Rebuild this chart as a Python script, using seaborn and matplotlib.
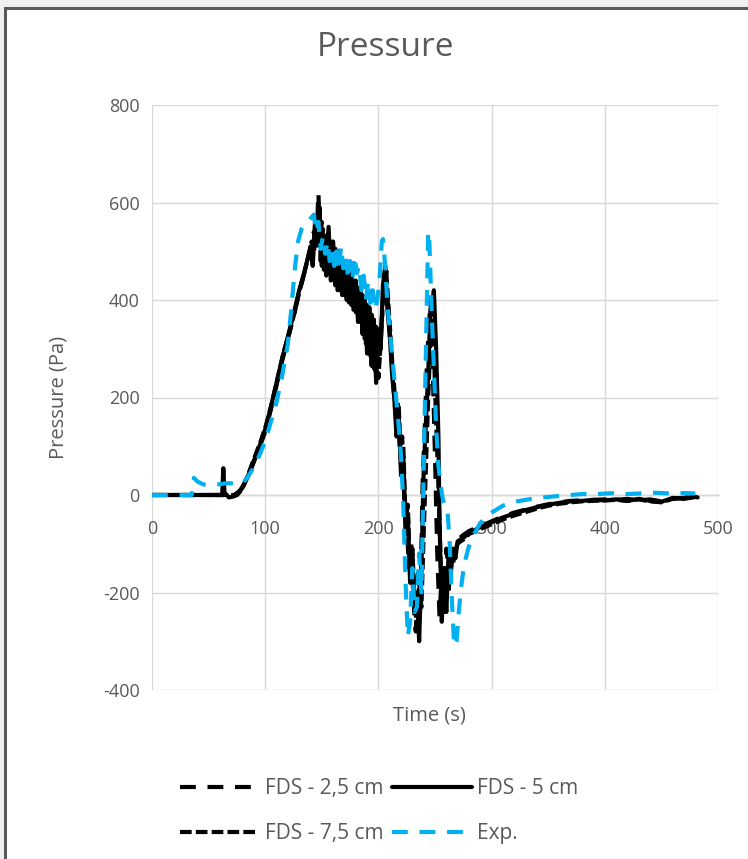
import numpy as np
import pandas as pd
import seaborn as sns
import matplotlib.pyplot as plt
from matplotlib.patches import Rectangle

# ---- data (time in s, pressure in Pa) ----
t_exp = [0, 10, 20, 30, 35, 37, 40, 45, 50, 55, 60, 65, 70, 75, 80, 85, 90, 95, 100, 105,
         110, 115, 120, 123, 126, 129, 132, 135, 138, 141, 143, 145, 147, 149, 151, 153, 155,
         157, 159, 161, 163, 165, 167, 169, 171, 173, 175, 177, 179, 181, 183, 185, 187, 189,
         191, 193, 195, 197, 199, 201, 203, 204, 206, 208, 210, 212, 214, 216, 218, 220, 222,
         224, 226, 228, 230, 232, 234, 236, 238, 240, 242, 244, 245, 247, 249, 251, 253, 255,
         257, 259, 261, 263, 265, 267, 269, 271, 273, 276, 280, 285, 290, 295, 300, 310, 320,
         330, 340, 350, 360, 370, 380, 390, 400, 410, 420, 430, 440, 450, 460, 470, 480]
p_exp = [0, 0, 0, 0, 0, 35, 28, 22, 20, 22, 22, 24, 24, 22, 24, 38, 58, 82, 110, 150,
         190, 245, 310, 380, 460, 520, 545, 555, 560, 570, 575, 540, 560, 505, 530, 495, 520,
         480, 505, 470, 500, 460, 510, 465, 490, 450, 480, 440, 490, 455, 470, 420, 450, 400,
         440, 390, 420, 380, 400, 440, 520, 525, 470, 390, 340, 290, 240, 190, 140, 80, -20,
         -180, -290, -260, -150, -240, -230, -120, -200, 50, 300, 540, 520, 380, 260, 140, 60,
         20, -10, -20, -30, -100, -220, -310, -300, -240, -190, -140, -105, -78, -58, -44,
         -36, -22, -14, -10, -6, -4, -2, 0, 2, 1, 3, 4, 2, 3, 5, 4, 3, 4, 3]

t_5 = [0, 20, 40, 60, 62, 63, 64, 66, 68, 72, 75, 80, 85, 90, 95, 100, 105, 110, 115, 120,
       125, 130, 135, 138, 140, 142, 144, 146, 148, 150, 152, 154, 156, 158, 160, 162, 164,
       166, 168, 170, 172, 174, 176, 178, 180, 182, 184, 186, 188, 190, 192, 194, 196, 198,
       200, 202, 204, 206, 208, 210, 212, 214, 216, 218, 220, 222, 224, 226, 228, 230, 232,
       234, 236, 238, 240, 242, 244, 246, 248, 249, 251, 253, 254, 256, 258, 260, 262, 264,
       266, 268, 270, 275, 280, 285, 290, 300, 310, 320, 330, 340, 350, 360, 370, 380, 390,
       400, 410, 420, 430, 440, 450, 460, 470, 480, 482]
p_5 = [0, 0, 0, 0, 0, 55, 5, 0, -5, -3, 0, 15, 40, 70, 100, 135, 180, 230, 280, 325,
       370, 420, 460, 490, 510, 470, 560, 520, 590, 470, 530, 450, 550, 440, 520, 430, 500,
       420, 480, 410, 465, 395, 450, 380, 440, 355, 420, 330, 400, 290, 385, 265, 360, 230,
       340, 300, 430, 470, 380, 330, 250, 200, 120, 160, 40, 80, -80, -40, -180, -120, -240,
       -200, -300, -150, 50, 150, 250, 380, 400, 420, 300, 120, -50, -260, -150, -240, -120,
       -160, -110, -130, -95, -88, -78, -72, -66, -56, -46, -38, -31, -25, -20, -16, -13,
       -12, -10, -11, -9, -12, -8, -12, -14, -6, -8, -4, -5]

t_25 = [0, 20, 40, 60, 65, 70, 74, 78, 82, 86, 90, 95, 100, 105, 110, 115, 120, 125, 130,
        134, 137, 140, 143, 145, 147, 149, 151, 153, 155, 157, 159, 161, 163, 165, 167, 169,
        171, 173, 175, 177, 179, 181, 183, 185, 187, 189, 191, 193, 195, 197, 199, 201, 203,
        205, 207, 209, 211, 213, 215, 217, 219, 221, 223, 225, 227, 229, 231, 233, 235, 237,
        239, 241, 243, 245, 246, 248, 250, 252, 254, 256, 258, 260, 262, 264, 266, 268, 270,
        275, 280, 290, 300, 310, 320, 330, 340, 350, 360, 370, 380, 390, 400, 410, 420, 430,
        440, 450, 460, 470, 480]
p_25 = [0, 0, 0, 0, 0, 0, 2, 10, 25, 45, 68, 98, 130, 175, 225, 275, 320, 365, 415,
        450, 480, 500, 540, 500, 620, 480, 545, 460, 535, 450, 510, 440, 490, 425, 470, 415,
        460, 400, 445, 385, 430, 370, 415, 345, 395, 310, 380, 285, 350, 250, 320, 280, 360,
        420, 460, 360, 300, 230, 170, 200, 90, 120, -20, -60, -150, -100, -220, -280, -160,
        -240, 20, 140, 280, 360, 400, 260, 80, -120, -250, -160, -220, -110, -150, -100,
        -125, -105, -92, -82, -74, -64, -54, -44, -36, -30, -24, -19, -15, -12, -11, -10,
        -9, -10, -8, -11, -9, -13, -7, -6, -5]

t_75 = [0, 20, 40, 60, 65, 70, 75, 79, 83, 87, 91, 96, 101, 106, 111, 116, 121, 126, 131,
        136, 139, 141, 144, 146, 148, 150, 152, 154, 156, 158, 160, 162, 164, 166, 168, 170,
        172, 174, 176, 178, 180, 182, 184, 186, 188, 190, 192, 194, 196, 198, 200, 202, 204,
        206, 208, 210, 212, 214, 216, 218, 220, 222, 224, 226, 228, 230, 232, 234, 236, 238,
        240, 242, 244, 246, 247, 249, 251, 253, 255, 257, 258, 260, 262, 264, 266, 268, 270,
        272, 276, 280, 290, 300, 310, 320, 330, 340, 350, 360, 370, 380, 390, 400, 410, 420,
        430, 440, 450, 460, 470, 480]
p_75 = [0, 0, 0, 0, 0, 0, 0, 10, 30, 55, 80, 110, 145, 190, 240, 290, 330, 375, 425,
        470, 495, 520, 500, 575, 510, 560, 455, 525, 470, 520, 435, 505, 420, 490, 410, 470,
        400, 455, 390, 440, 375, 425, 360, 410, 320, 390, 290, 370, 260, 345, 240, 310, 400,
        455, 420, 350, 280, 220, 140, 180, 60, 100, -50, -20, -160, -110, -220, -270, -180,
        -230, -80, 60, 200, 320, 380, 300, 150, 20, -140, -230, -240, -150, -200, -120,
        -140, -110, -100, -96, -90, -80, -70, -60, -50, -42, -35, -28, -22, -18, -15, -13,
        -12, -11, -10, -12, -9, -13, -15, -8, -6, -4]

labels = ['FDS - 2,5 cm', 'FDS - 5 cm', 'FDS - 7,5 cm', 'Exp.']
x_ticks = [0, 100, 200, 300, 400, 500]
y_ticks = [-400, -200, 0, 200, 400, 600, 800]

grey = '#595959'
blue = '#00B0F0'

sns.set_style('white')
plt.rcParams['font.family'] = ['Open Sans', 'DejaVu Sans']
plt.rcParams['axes.unicode_minus'] = False

fig = plt.figure(figsize=(7.48, 8.59), dpi=100, facecolor='#f0f0f0')
# chart frame (cut off on the right and bottom, as in the screenshot)
fig.patches.append(Rectangle((5 / 748, -0.05), 1.1, 1.05 - 8 / 859, transform=fig.transFigure,
                             facecolor='white', edgecolor='#5a5a5a', lw=2.2, zorder=-5))

ax = fig.add_axes([152 / 748, 169 / 859, 566 / 748, 585 / 859])
ax.set_facecolor('white')

lw = 3.0
sns.lineplot(x=t_25, y=p_25, ax=ax, color='black', lw=lw, linestyle=(0, (3.8, 2.8)),
             estimator=None, sort=False, label=labels[0])
sns.lineplot(x=t_5, y=p_5, ax=ax, color='black', lw=lw, linestyle='-',
             estimator=None, sort=False, label=labels[1])
sns.lineplot(x=t_75, y=p_75, ax=ax, color='black', lw=lw, linestyle=(0, (2.8, 1.0)),
             estimator=None, sort=False, label=labels[2])
sns.lineplot(x=t_exp, y=p_exp, ax=ax, color=blue, lw=lw, linestyle=(0, (3.8, 2.8)),
             estimator=None, sort=False, label=labels[3])

ax.set_xlim(0, 500)
ax.set_ylim(-400, 800)
ax.set_xticks(x_ticks)
ax.set_yticks(y_ticks)
ax.grid(True, color='#d9d9d9', lw=1.0)
ax.set_axisbelow(True)
for s in ['top', 'right', 'left']:
    ax.spines[s].set_visible(False)
ax.spines['bottom'].set_position(('data', 0))
ax.spines['bottom'].set_color('#bfbfbf')
ax.spines['bottom'].set_linewidth(1.0)
ax.spines['bottom'].set_zorder(0.5)
ax.tick_params(axis='both', length=0, labelsize=13, labelcolor=grey)
ax.tick_params(axis='x', pad=18)
ax.tick_params(axis='y', pad=9)

ax.set_xlabel('Time (s)', fontsize=14.5, color=grey)
ax.set_ylabel('Pressure (Pa)', fontsize=14.5, color=grey)
ax.xaxis.set_label_coords(0.49, -0.026)
ax.yaxis.set_label_coords(-0.148, 0.5)

fig.text(386 / 748, 1 - 48 / 859, 'Pressure', ha='center', va='center', fontsize=24, color=grey)

h, l = ax.get_legend_handles_labels()
ax.get_legend().remove()
order = [0, 2, 1, 3]
fig.legend([h[i] for i in order], [l[i] for i in order], ncol=2, loc='center',
           bbox_to_anchor=(379 / 748, 1 - 811 / 859), frameon=False, fontsize=15,
           labelcolor=grey, handlelength=3.8, handletextpad=0.25, columnspacing=0.45,
           labelspacing=1.15)

plt.savefig('out.png', dpi=100, facecolor=fig.get_facecolor())
plt.close()
